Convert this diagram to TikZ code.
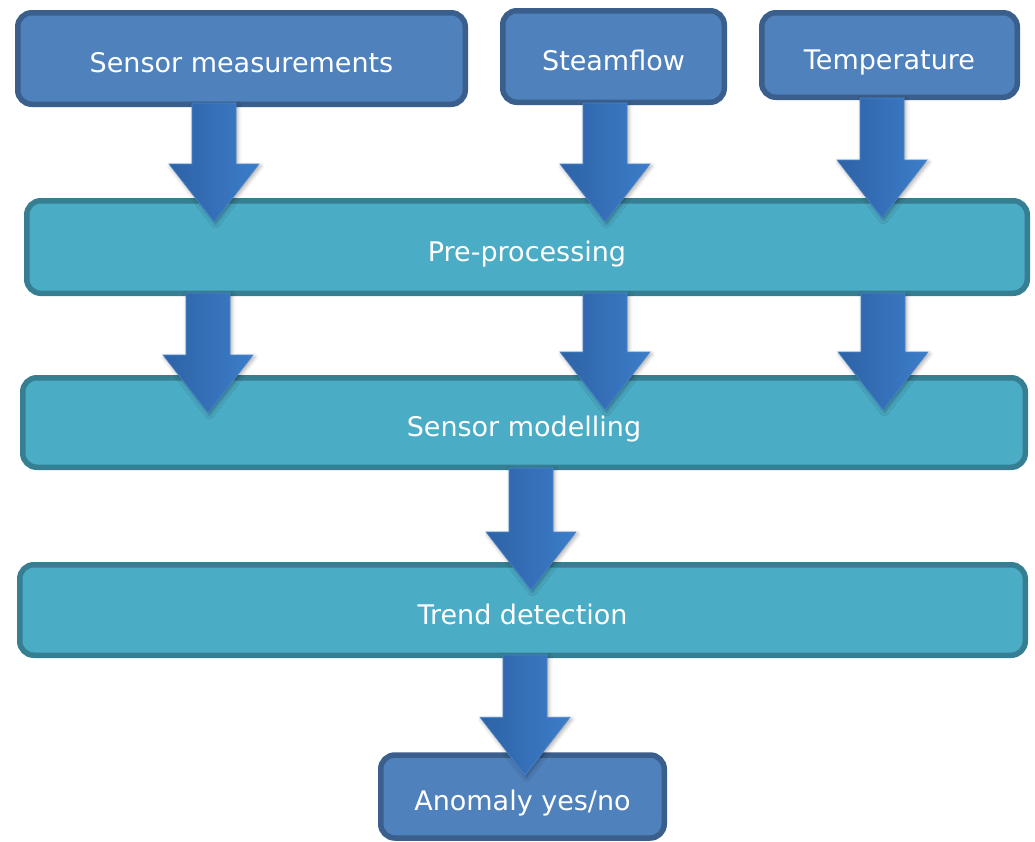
\documentclass[tikz,border=0pt]{standalone}
\usepackage{fontspec}
\setmainfont{DejaVu Sans}
\usetikzlibrary{calc,shadows.blur}

\definecolor{boxblue}{HTML}{4F81BD}
\definecolor{boxblueline}{HTML}{3A5F8C}
\definecolor{boxteal}{HTML}{4BACC6}
\definecolor{boxtealline}{HTML}{367F93}
\definecolor{arrowdark}{HTML}{2E62A6}
\definecolor{arrowlight}{HTML}{3C7DC9}
\definecolor{arrowedge}{HTML}{4A86CC}

\tikzset{
  stagebox/.style={line width=5.5pt, rounded corners=14pt, text=white,
    font=\fontsize{27}{31}\selectfont, text height=28pt, text depth=0pt,
    inner sep=0pt, outer sep=2.75pt},
  inputbox/.style={stagebox, draw=boxblueline, fill=boxblue},
  processbox/.style={stagebox, draw=boxtealline, fill=boxteal},
  arrowbody/.style={left color=arrowdark, right color=arrowlight,
    draw=arrowedge, line width=0.6pt,
    blur shadow={shadow xshift=1.5pt, shadow yshift=-2pt,
      shadow blur radius=4pt, shadow opacity=35}}
}

% block arrow pointing down from #1 to the tip #2
\newcommand\blockarrow[2]{%
  \path[arrowbody] let \p1=#1, \p2=#2 in
    (\x1-22pt,\y1) -- (\x1+22pt,\y1) -- (\x1+22pt,\y2+58pt)
    -- (\x1+45pt,\y2+58pt) -- (\x1,\y2) -- (\x1-45pt,\y2+58pt)
    -- (\x1-22pt,\y2+58pt) -- cycle;}

\begin{document}
\begin{tikzpicture}[x=1pt,y=-1pt]
\useasboundingbox (0,0) rectangle (1035,841);

% input boxes
\node[inputbox, minimum width=447.5pt, minimum height=91.5pt] (sm) at (241.5,58.5) {Sensor measurements};
\node[inputbox, minimum width=221.5pt, minimum height=91.5pt] (sf) at (613.5,56.5) {Steamflow};
\node[inputbox, minimum width=255.5pt, minimum height=84.5pt] (tp) at (889.5,55) {Temperature};

% processing stages
\node[processbox, minimum width=1000.5pt, minimum height=92.5pt] (pp) at (527,247) {Pre-processing};
\node[processbox, minimum width=1002.5pt, minimum height=89.5pt] (smod) at (524,422.5) {Sensor modelling};
\node[processbox, minimum width=1005.5pt, minimum height=90.5pt] (td) at (522.5,610) {Trend detection};

% result
\node[inputbox, minimum width=283.5pt, minimum height=83pt] (an) at (522.5,796.5) {Anomaly yes/no};

% arrow columns
\coordinate (ca) at (214,0);
\coordinate (cb) at (605,0);
\coordinate (cc) at (882,0);
\coordinate (da) at (208,0);
\coordinate (db) at (605,0);
\coordinate (dc) at (883,0);
\coordinate (ea) at (531,0);
\coordinate (fa) at (525,0);

% inputs into pre-processing
\blockarrow{($(sm.south -| ca)+(0,-4)$)}{($(pp.north -| ca)+(0,24)$)}
\blockarrow{($(sf.south -| cb)+(0,-2)$)}{($(pp.north -| cb)+(0,24)$)}
\blockarrow{($(tp.south -| cc)+(0,-2)$)}{($(pp.north -| cc)+(0,20)$)}

% pre-processing into sensor modelling
\blockarrow{($(pp.south -| da)+(0,-3)$)}{($(smod.north -| da)+(0,38)$)}
\blockarrow{($(pp.south -| db)+(0,-3)$)}{($(smod.north -| db)+(0,35)$)}
\blockarrow{($(pp.south -| dc)+(0,-3)$)}{($(smod.north -| dc)+(0,35)$)}

% sensor modelling into trend detection
\blockarrow{($(smod.south -| ea)+(0,-2)$)}{($(td.north -| ea)+(0,28)$)}

% trend detection into the result
\blockarrow{($(td.south -| fa)+(0,-3)$)}{($(an.north -| fa)+(0,23)$)}
\end{tikzpicture}
\end{document}
